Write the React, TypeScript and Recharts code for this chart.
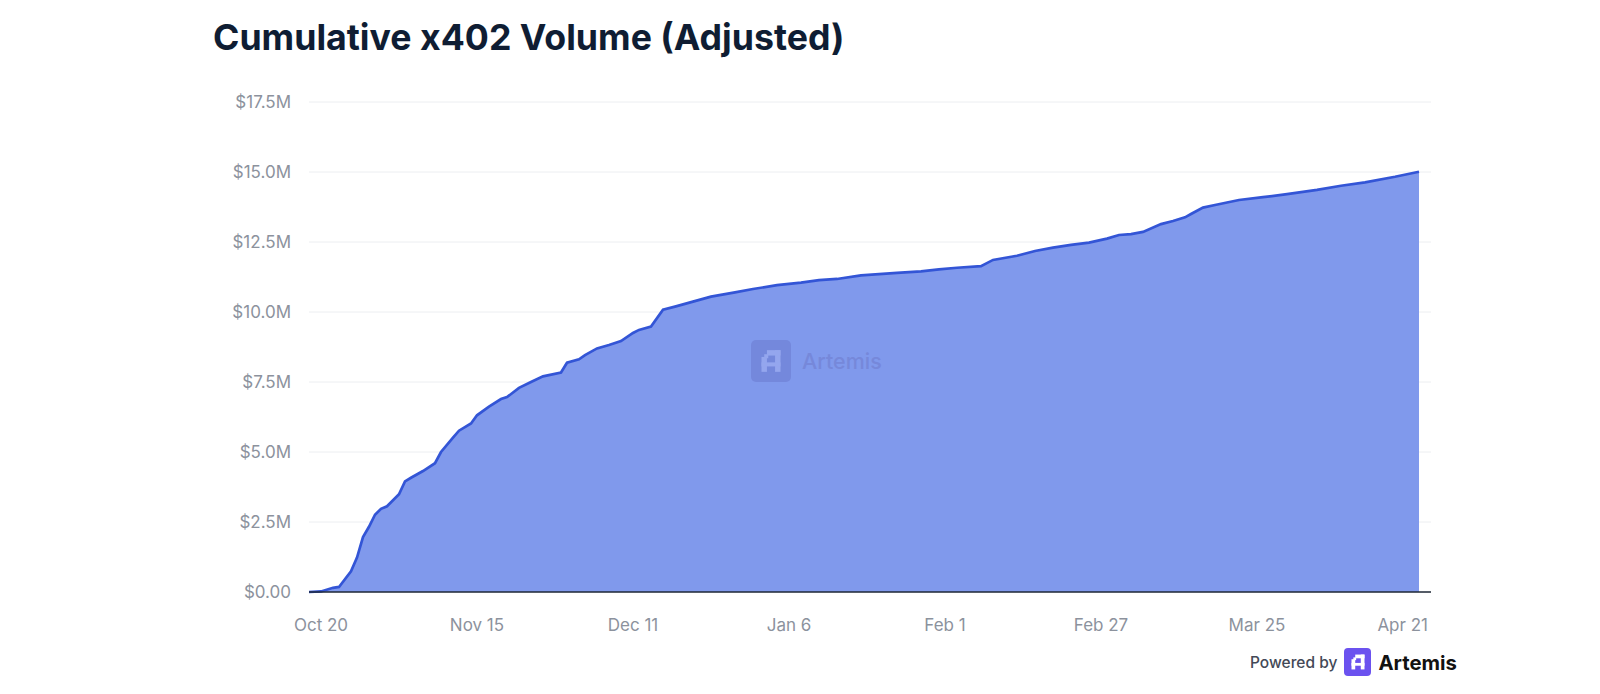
import { AreaChart, Area, XAxis, YAxis, CartesianGrid } from 'recharts'

// cumulative volume, $M
const dates = [
  '2025-10-18', '2025-10-20', '2025-10-22', '2025-10-23', '2025-10-25', '2025-10-26',
  '2025-10-27', '2025-10-28', '2025-10-29', '2025-10-30', '2025-10-31', '2025-11-02',
  '2025-11-03', '2025-11-04', '2025-11-06', '2025-11-08', '2025-11-09', '2025-11-11',
  '2025-11-12', '2025-11-14', '2025-11-15', '2025-11-17', '2025-11-19', '2025-11-20',
  '2025-11-22', '2025-11-24', '2025-11-26', '2025-11-29', '2025-11-30', '2025-12-02',
  '2025-12-03', '2025-12-05', '2025-12-07', '2025-12-09', '2025-12-11', '2025-12-12',
  '2025-12-14', '2025-12-16', '2025-12-18', '2025-12-21', '2025-12-24', '2025-12-28',
  '2025-12-31', '2026-01-04', '2026-01-08', '2026-01-11', '2026-01-14', '2026-01-18',
  '2026-01-21', '2026-01-24', '2026-01-28', '2026-01-31', '2026-02-03', '2026-02-07',
  '2026-02-09', '2026-02-13', '2026-02-16', '2026-02-19', '2026-02-22', '2026-02-25',
  '2026-02-28', '2026-03-02', '2026-03-04', '2026-03-06', '2026-03-09', '2026-03-11',
  '2026-03-13', '2026-03-14', '2026-03-16', '2026-03-18', '2026-03-22', '2026-03-26',
  '2026-03-30', '2026-04-04', '2026-04-08', '2026-04-12', '2026-04-17', '2026-04-21',
]

const volume = [
  0, 0.02, 0.15, 0.18, 0.74, 1.23,
  1.96, 2.33, 2.76, 2.97, 3.06, 3.49,
  3.95, 4.08, 4.32, 4.6, 5.0, 5.51,
  5.76, 6.02, 6.31, 6.62, 6.89, 6.96,
  7.29, 7.5, 7.7, 7.84, 8.19, 8.31,
  8.46, 8.7, 8.82, 8.96, 9.25, 9.36,
  9.48, 10.08, 10.19, 10.37, 10.55, 10.7,
  10.82, 10.96, 11.05, 11.14, 11.18, 11.31,
  11.35, 11.4, 11.45, 11.52, 11.58, 11.64,
  11.86, 12.01, 12.18, 12.3, 12.4, 12.48,
  12.62, 12.75, 12.78, 12.86, 13.14, 13.25,
  13.38, 13.5, 13.73, 13.82, 14.0, 14.1,
  14.21, 14.36, 14.51, 14.63, 14.83, 15.01,
]

const tickDates = ['2025-10-20', '2025-11-15', '2025-12-11', '2026-01-06', '2026-02-01', '2026-02-27', '2026-03-25', '2026-04-21']
const yTicks = [0, 2.5, 5, 7.5, 10, 12.5, 15, 17.5]

const MONTHS = ['Jan', 'Feb', 'Mar', 'Apr', 'May', 'Jun', 'Jul', 'Aug', 'Sep', 'Oct', 'Nov', 'Dec']
const DAY = 86400000

const toMs = (s: string) => Date.parse(s + 'T00:00:00Z')
const chartData = dates.map((d, i) => ({ t: toMs(d), v: volume[i] }))
const xTicks = tickDates.map(toMs)
const xMin = toMs(dates[0])
const xMax = xMin + 187 * DAY

function fmtDate(ms: number): string {
  const d = new Date(ms)
  return `${MONTHS[d.getUTCMonth()]} ${d.getUTCDate()}`
}

function fmtMoney(v: number): string {
  return v === 0 ? '$0.00' : `$${v.toFixed(1)}M`
}

const FONT = 'Inter, "Noto Sans", sans-serif'
const TICK = '#8c929d'

function XTick(props: any) {
  const { x, y, payload, index } = props
  const last = index === xTicks.length - 1
  return (
    <text
      x={last ? x + 9 : x}
      y={y}
      dy="0.71em"
      textAnchor={last ? 'end' : 'middle'}
      fill={TICK}
      fontSize={17}
      fontFamily={FONT}
    >
      {fmtDate(payload.value)}
    </text>
  )
}

function LogoGlyph({ size, fg }: { size: number; fg: string }) {
  return (
    <svg width={size} height={size} viewBox="0 0 28 28" style={{ display: 'block' }}>
      <rect x={17} y={6} width={4} height={16} fill={fg} />
      <rect x={11} y={6} width={10} height={4} fill={fg} />
      <rect x={7} y={11} width={4} height={11} fill={fg} />
      <rect x={9} y={9} width={3} height={3} fill={fg} />
      <rect x={7} y={15} width={14} height={3} fill={fg} />
    </svg>
  )
}

export default function App() {
  return (
    <div style={{ position: 'absolute', left: 0, top: 0, width: 1600, height: 694, background: '#fff', fontFamily: FONT }}>
      <div
        style={{
          position: 'absolute',
          left: 213,
          top: 17,
          fontSize: 35.7,
          fontWeight: 700,
          color: '#0f1d33',
          lineHeight: '40px',
          whiteSpace: 'nowrap',
        }}
      >
        Cumulative x402 Volume (Adjusted)
      </div>

      <AreaChart
        width={1600}
        height={694}
        data={chartData}
        margin={{ top: 102, right: 169, bottom: 0, left: 0 }}
      >
        <CartesianGrid vertical={false} stroke="#eceef1" />
        <XAxis
          dataKey="t"
          type="number"
          scale="time"
          domain={[xMin, xMax]}
          ticks={xTicks}
          height={102}
          tickSize={0}
          tickMargin={27}
          axisLine={{ stroke: '#1f2937', strokeWidth: 1.5 }}
          tickLine={false}
          tick={<XTick />}
          interval={0}
        />
        <YAxis
          domain={[0, 17.5]}
          ticks={yTicks}
          width={309}
          tickSize={0}
          tickMargin={18}
          axisLine={false}
          tickLine={false}
          tickFormatter={fmtMoney}
          tick={{ fill: TICK, fontSize: 17, fontFamily: FONT }}
          interval={0}
        />
        <Area
          type="linear"
          dataKey="v"
          stroke="#3355d6"
          strokeWidth={2.7}
          fill="#8099ec"
          fillOpacity={1}
          isAnimationActive={false}
          dot={false}
          activeDot={false}
        />
      </AreaChart>

      {/* watermark */}
      <div style={{ position: 'absolute', left: 751, top: 340, display: 'flex', alignItems: 'center', pointerEvents: 'none' }}>
        <div style={{ width: 40, height: 42, borderRadius: 5, background: '#7488dc', display: 'flex', alignItems: 'center', justifyContent: 'center' }}>
          <LogoGlyph size={38} fg="#94a6ee" />
        </div>
        <span style={{ marginLeft: 11, fontSize: 21.5, fontWeight: 500, color: '#7688da' }}>Artemis</span>
      </div>

      {/* powered by */}
      <div style={{ position: 'absolute', left: 1250, top: 648, display: 'flex', alignItems: 'center', height: 28 }}>
        <span style={{ fontSize: 15.5, fontWeight: 500, color: '#434957' }}>Powered by</span>
        <div style={{ marginLeft: 7, width: 27, height: 28, borderRadius: 4, background: '#6b52ef', display: 'flex', alignItems: 'center', justifyContent: 'center' }}>
          <LogoGlyph size={26} fg="#ffffff" />
        </div>
        <span style={{ marginLeft: 7, fontSize: 20.3, fontWeight: 700, color: '#111111' }}>Artemis</span>
      </div>
    </div>
  )
}
